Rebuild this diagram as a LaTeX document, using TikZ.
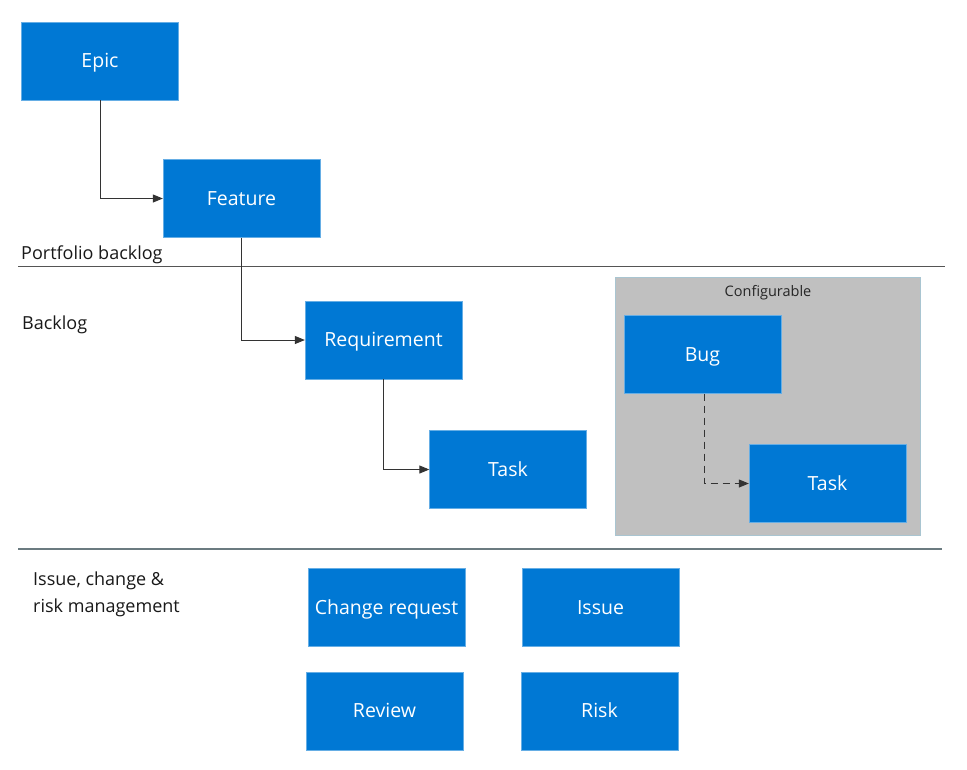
\documentclass[tikz,border=0pt]{standalone}
\usepackage{fontspec}
\setmainfont{Open Sans}
\usetikzlibrary{arrows.meta}
\definecolor{msblue}{HTML}{0078D4}
\definecolor{cfggray}{HTML}{C0C0C0}
\definecolor{ruleA}{HTML}{555555}
\definecolor{ruleB}{HTML}{6B7B80}
\begin{document}
\begin{tikzpicture}[x=1pt,y=-1pt,
  wi/.style={draw=msblue!60!white, line width=0.3pt, fill=msblue, text=white, minimum width=157pt, minimum height=78pt, inner sep=0pt, text height=17pt, text depth=4pt, font=\fontsize{19.5}{23}\selectfont, anchor=center},
  lbl/.style={anchor=west, inner sep=0pt, font=\fontsize{18}{22}\selectfont, text=black!90, align=left},
  conn/.style={draw=black!80, line width=0.9pt, -{Triangle[length=10pt,width=8pt]}},
  dconn/.style={conn, dash pattern=on 7pt off 5pt}]
\useasboundingbox (0,0) rectangle (967,769);
\fill[white] (0,0) rectangle (967,769);
% configurable area
\node[draw=cyan!20!cfggray, line width=0.3pt, fill=cfggray, minimum width=305pt, minimum height=258pt, inner sep=0pt] (cfg) at (767.5,406) {};
\node[inner sep=0pt, font=\fontsize{14.5}{17}\selectfont, text=black!85] (cfglbl) at (768,293) {Configurable};
% rules
\draw[ruleA, line width=1pt] (18,266) coordinate (r1a) -- (945,266) coordinate (r1b);
\draw[ruleB, line width=1.4pt] (18,549) coordinate (r2a) -- (942,549) coordinate (r2b);
% labels
\node[lbl] (lport) at (21,254.5) {Portfolio backlog};
\node[lbl] (lback) at (22,324.5) {Backlog};
\node[lbl, anchor=north west, font=\fontsize{18}{27}\selectfont] (liss) at (33,571.5) {Issue, change \&\\risk management};
% work items
\node[wi] (epic) at (100,61) {Epic};
\node[wi] (feature) at (241.5,198.5) {Feature};
\node[wi] (req) at (383.5,340) {Requirement};
\node[wi] (task) at (508,469.5) {Task};
\node[wi] (bug) at (702.5,354.5) {Bug};
\node[wi] (task2) at (827.5,483.5) {Task};
\node[wi] (cr) at (386.5,607.5) {Change request};
\node[wi] (issue) at (600.5,607.5) {Issue};
\node[wi] (review) at (384.5,711) {Review};
\node[wi] (risk) at (599.5,711) {Risk};
% connectors
\draw[conn] (epic.south) |- (feature.west);
\draw[conn] (feature.south) |- (req.west);
\draw[conn] (req.south) |- (task.west);
\draw[dconn] ([xshift=2pt]bug.south) |- (task2.west);
\end{tikzpicture}
\end{document}
